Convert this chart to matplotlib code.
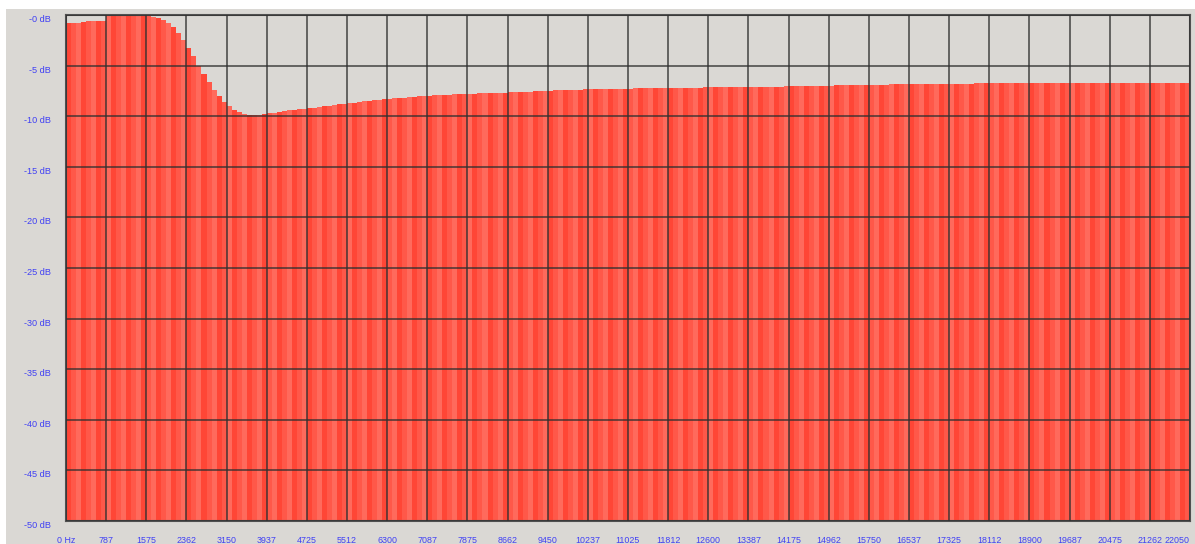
import numpy as np
import matplotlib.pyplot as plt
from matplotlib.patches import Rectangle

# spectrum bins: 224 bins of 98.4375 Hz covering 0 .. 22050 Hz
bin_hz = 98.4375
levels_db = [
    -0.78, -0.77, -0.76, -0.72, -0.64, -0.62, -0.60, -0.58, -0.12, -0.06, -0.03, -0.01, -0.01, -0.01, -0.02, -0.04,
    -0.07, -0.15, -0.30, -0.50, -0.80, -1.20, -1.80, -2.50, -3.30, -4.10, -5.00, -5.80, -6.60, -7.40, -8.00, -8.60,
    -9.00, -9.35, -9.60, -9.75, -9.85, -9.87, -9.85, -9.80, -9.72, -9.65, -9.58, -9.52, -9.42, -9.37, -9.32, -9.27,
    -9.22, -9.16, -9.10, -9.03, -8.96, -8.90, -8.84, -8.78, -8.72, -8.66, -8.60, -8.54, -8.48, -8.43, -8.38, -8.33,
    -8.28, -8.24, -8.20, -8.16, -8.12, -8.08, -8.04, -8.00, -7.97, -7.94, -7.91, -7.88, -7.86, -7.84, -7.82, -7.80,
    -7.78, -7.76, -7.74, -7.72, -7.71, -7.70, -7.68, -7.66, -7.64, -7.63, -7.60, -7.58, -7.56, -7.54, -7.52, -7.50,
    -7.48, -7.46, -7.44, -7.42, -7.40, -7.38, -7.37, -7.36, -7.35, -7.34, -7.33, -7.32, -7.31, -7.30, -7.29, -7.28,
    -7.27, -7.26, -7.25, -7.24, -7.23, -7.22, -7.21, -7.20, -7.20, -7.19, -7.19, -7.18, -7.18, -7.17, -7.17, -7.16,
    -7.16, -7.15, -7.15, -7.14, -7.14, -7.13, -7.13, -7.12, -7.12, -7.11, -7.10, -7.10, -7.09, -7.08, -7.07, -7.06,
    -7.05, -7.04, -7.03, -7.02, -7.01, -7.00, -6.99, -6.98, -6.97, -6.96, -6.95, -6.94, -6.93, -6.92, -6.91, -6.90,
    -6.89, -6.88, -6.88, -6.87, -6.86, -6.85, -6.85, -6.84, -6.83, -6.82, -6.82, -6.81, -6.80, -6.80, -6.79, -6.79,
    -6.78, -6.78, -6.77, -6.77, -6.77, -6.76, -6.76, -6.76, -6.75, -6.75, -6.75, -6.75, -6.74, -6.74, -6.74, -6.74,
    -6.74, -6.73, -6.73, -6.73, -6.73, -6.73, -6.73, -6.72, -6.72, -6.72, -6.72, -6.72, -6.72, -6.72, -6.72, -6.72,
    -6.72, -6.72, -6.72, -6.72, -6.71, -6.71, -6.71, -6.71, -6.71, -6.71, -6.71, -6.71, -6.71, -6.71, -6.71, -6.71,
]

freq_ticks = [0, 787.5, 1575, 2362.5, 3150, 3937.5, 4725, 5512.5, 6300, 7087.5, 7875, 8662.5, 9450,
              10237.5, 11025, 11812.5, 12600, 13387.5, 14175, 14962.5, 15750, 16537.5, 17325, 18112.5,
              18900, 19687.5, 20475, 21262.5, 22050]
freq_labels = ['0 Hz', '787', '1575', '2362', '3150', '3937', '4725', '5512', '6300', '7087', '7875',
               '8662', '9450', '10237', '11025', '11812', '12600', '13387', '14175', '14962', '15750',
               '16537', '17325', '18112', '18900', '19687', '20475', '21262', '22050']
db_ticks = [0, -5, -10, -15, -20, -25, -30, -35, -40, -45, -50]
db_labels = ['-0 dB', '-5 dB', '-10 dB', '-15 dB', '-20 dB', '-25 dB', '-30 dB', '-35 dB', '-40 dB',
             '-45 dB', '-50 dB']

panel = '#dad8d4'
label_blue = '#4040f4'
stripes = ['#ff4636', '#ff2c1c', '#ff6a5c', '#ff3b2a', '#ee2814', '#ff5849', '#ff4030', '#ff7868']

plt.rcParams['font.family'] = ['Liberation Sans', 'DejaVu Sans']

fig = plt.figure(figsize=(11.95, 5.44), dpi=100, facecolor='white')
# grey window panel behind the plot
fig.patches.append(Rectangle((6 / 1195, 0), 1 - 6 / 1195, 1 - 9 / 544, transform=fig.transFigure,
                             facecolor=panel, edgecolor='none', zorder=-10))

ax = fig.add_axes([66 / 1195, 1 - 521 / 544, 1124 / 1195, 506 / 544])
ax.set_facecolor(panel)

levels = np.array(levels_db)
edges = np.arange(len(levels)) * bin_hz
colors = [stripes[(i * 5 + i // 3) % len(stripes)] for i in range(len(levels))]
ax.bar(edges, levels + 50, bottom=-50, width=bin_hz, align='edge', color=colors,
       linewidth=0, antialiased=False, zorder=1)

ax.set_xlim(0, 22050)
ax.set_ylim(-50, 0)
ax.set_xticks(freq_ticks)
ax.set_xticklabels(freq_labels, fontsize=6.4, color=label_blue)
ax.set_yticks(db_ticks)
ax.set_yticklabels(db_labels, fontsize=6.6, color=label_blue, va='top')
ax.tick_params(axis='both', length=0)
ax.tick_params(axis='x', pad=11)
ax.tick_params(axis='y', pad=11)
# last frequency label sits at the right border, keep it inside the window
ax.get_xticklabels()[-1].set_horizontalalignment('right')

ax.grid(True, color='#303030', linewidth=1.4, alpha=0.7, zorder=3)
ax.set_axisbelow(False)
for sp in ax.spines.values():
    sp.set_color('#505050')
    sp.set_linewidth(1.5)

fig.savefig('out.png', dpi=100, facecolor=fig.get_facecolor())
